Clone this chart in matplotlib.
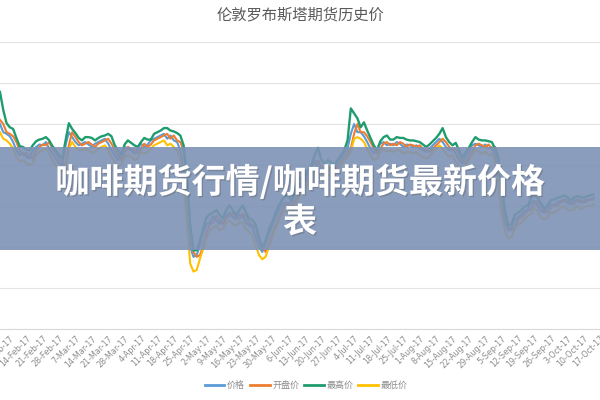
import pandas as pd
import matplotlib.pyplot as plt
from matplotlib.patches import Rectangle
from matplotlib.lines import Line2D
import matplotlib.patheffects as pe

plt.rcParams['font.family'] = ['Noto Sans CJK SC', 'DejaVu Sans']

# =======================
# data
# =======================
high = [2189,2167,2151,2146,2144,2133,2123,2122,2119,2118,
        2124,2129,2131,2132,2134,2130,2123,2118,2112,2108,
        2130,2151,2144,2139,2133,2130,2134,2134,2133,2130,
        2133,2135,2136,2138,2135,2124,2118,2112,2125,2130,
        2127,2124,2122,2128,2133,2131,2131,2138,2140,2142,
        2145,2145,2142,2141,2139,2136,2124,2088,2027,1996,
        1996,2008,2023,2036,2040,2042,2045,2039,2035,2045,
        2051,2045,2039,2045,2051,2042,2035,2033,2027,2011,
        1999,2008,2021,2030,2041,2050,2057,2063,2061,2057,
        2069,2082,2084,2088,2094,2100,2112,2121,2106,2102,
        2106,2103,2100,2106,2112,2118,2130,2169,2163,2157,
        2146,2152,2142,2133,2124,2118,2129,2134,2136,2131,
        2131,2134,2133,2133,2131,2130,2130,2129,2128,2125,
        2122,2125,2129,2133,2138,2145,2134,2128,2124,2127,
        2118,2109,2115,2121,2128,2134,2131,2130,2130,2129,
        2128,2120,2106,2075,2045,2027,2028,2039,2042,2045,
        2049,2051,2060,2063,2060,2053,2047,2051,2057,2058,
        2060,2061,2063,2061,2057,2060,2062,2061,2060,2062,
        2063,2064]

price = [2150,2140,2138,2135,2128,2118,2112,2115,2110,2108,
         2118,2122,2125,2124,2128,2120,2114,2108,2102,2100,
         2124,2140,2134,2128,2124,2126,2128,2125,2122,2126,
         2128,2130,2132,2126,2118,2112,2106,2115,2122,2120,
         2118,2114,2120,2126,2122,2125,2130,2132,2134,2136,
         2138,2132,2136,2130,2128,2118,2095,2040,2000,1988,
         1990,2002,2018,2028,2030,2038,2032,2028,2036,2038,
         2042,2036,2034,2040,2038,2030,2026,2024,2012,2000,
         1994,2004,2016,2026,2036,2044,2052,2054,2050,2056,
         2064,2074,2080,2082,2090,2094,2105,2098,2096,2094,
         2098,2094,2098,2104,2108,2114,2120,2138,2150,2140,
         2140,2135,2128,2120,2114,2120,2126,2128,2124,2126,
         2124,2128,2126,2122,2125,2124,2122,2124,2120,2118,
         2116,2120,2124,2128,2132,2128,2122,2118,2120,2114,
         2106,2102,2110,2116,2124,2126,2124,2122,2125,2120,
         2122,2110,2085,2050,2030,2020,2024,2034,2036,2040,
         2044,2046,2055,2056,2050,2044,2042,2048,2052,2050,
         2055,2056,2058,2054,2052,2056,2058,2054,2056,2058,
         2058,2060]

open_ = [2155,2150,2140,2138,2135,2128,2118,2112,2115,2110,
         2108,2118,2122,2125,2124,2128,2120,2114,2108,2102,
         2100,2124,2140,2134,2128,2124,2126,2128,2125,2122,
         2126,2128,2130,2132,2126,2118,2112,2106,2115,2122,
         2120,2118,2114,2120,2126,2122,2125,2130,2132,2134,
         2136,2138,2132,2136,2130,2128,2118,2085,2025,1994,
         1988,1990,2002,2018,2028,2030,2038,2032,2028,2036,
         2038,2042,2036,2034,2040,2038,2030,2026,2024,2008,
         2000,1994,2004,2016,2026,2036,2044,2052,2054,2050,
         2056,2064,2074,2080,2082,2090,2094,2105,2098,2096,
         2094,2098,2094,2098,2104,2108,2114,2120,2138,2150,
         2140,2140,2135,2128,2120,2114,2120,2126,2128,2124,
         2126,2124,2128,2126,2122,2125,2124,2122,2124,2120,
         2118,2116,2120,2124,2128,2132,2128,2122,2118,2120,
         2114,2106,2102,2110,2116,2124,2126,2124,2122,2125,
         2120,2122,2110,2070,2042,2025,2020,2024,2034,2036,
         2040,2044,2046,2055,2056,2050,2044,2042,2048,2052,
         2050,2055,2056,2058,2054,2052,2056,2058,2054,2056,
         2058,2058]

low = [2140,2132,2130,2126,2120,2110,2104,2106,2102,2100,
       2102,2112,2116,2118,2120,2114,2106,2100,2095,2092,
       2095,2120,2128,2122,2118,2118,2120,2118,2115,2116,
       2120,2122,2124,2118,2110,2104,2098,2100,2110,2112,
       2110,2106,2108,2116,2114,2116,2120,2124,2126,2128,
       2130,2124,2126,2122,2118,2108,2080,2030,1980,1970,
       1972,1986,1998,2012,2020,2024,2026,2020,2022,2030,
       2032,2028,2026,2030,2030,2022,2018,2014,2002,1990,
       1985,1988,2000,2012,2022,2032,2040,2044,2042,2044,
       2050,2058,2068,2074,2078,2084,2090,2090,2088,2086,
       2088,2086,2088,2094,2100,2106,2110,2116,2132,2134,
       2132,2128,2120,2112,2106,2108,2116,2120,2116,2118,
       2116,2118,2118,2114,2116,2116,2114,2116,2112,2110,
       2108,2110,2116,2120,2124,2120,2114,2110,2112,2104,
       2098,2094,2096,2106,2112,2118,2116,2114,2116,2112,
       2114,2104,2078,2040,2020,2010,2012,2022,2028,2030,
       2034,2038,2040,2048,2044,2036,2034,2036,2042,2042,
       2044,2048,2050,2046,2044,2046,2050,2046,2048,2050,
       2050,2052]

# weekly tick labels, first one sits on the 4th trading day
tick_dates = pd.date_range("2017-02-07", periods=37, freq="7D")
tick_labels = [f"{d.day}-{d.strftime('%b-%y')}" for d in tick_dates]

series_names = ["价格", "开盘价", "最高价", "最低价"]
colors = ["#5b9bd5", "#ed7d31", "#1f9c6e", "#ffc000"]

# =======================
# plot
# =======================
fig = plt.figure(figsize=(6, 4), dpi=100)
ax = fig.add_axes([0, 0.1775, 1, 0.7175])

x = list(range(len(high)))
ax.plot(x, price, color=colors[0], lw=1.5)
ax.plot(x, open_, color=colors[1], lw=1.5)
ax.plot(x, low, color=colors[3], lw=1.5)
ax.plot(x, high, color=colors[2], lw=1.7)

ax.set_xlim(0, 180.4)
ax.set_ylim(1900, 2250)
ax.set_yticks(range(1900, 2251, 50))
ax.set_yticklabels([])
ax.grid(axis="y", color="#e3e3e3", lw=0.8)
ax.set_axisbelow(True)
ax.tick_params(length=0)

ax.set_xticks([3 + 5 * k for k in range(len(tick_labels))])
ax.set_xticklabels(tick_labels, rotation=45, ha="right", rotation_mode="anchor",
                   fontsize=5.8, color="#8c8c8c", family="DejaVu Sans")
for s in ["top", "left", "right"]:
    ax.spines[s].set_visible(False)
ax.spines["bottom"].set_color("#d9d9d9")

fig.text(0.5, 0.962, "伦敦罗布斯塔期货历史价", ha="center", va="center",
         fontsize=11, color="#595959")

handles = [Line2D([], [], color=c, lw=2) for c in colors]
fig.legend(handles, series_names, loc="center", bbox_to_anchor=(0.51, 0.037),
           ncol=4, frameon=False, fontsize=6.5, handlelength=2.2,
           columnspacing=0.5, handletextpad=0.3, labelcolor="#8c8c8c")

# overlay banner with headline
fig.add_artist(Rectangle((0, 0.375), 1, 0.2575, transform=fig.transFigure,
                         facecolor=(126/255, 146/255, 181/255), alpha=0.9,
                         edgecolor="none", zorder=5))
fig.text(0.5, 0.545, "咖啡期货行情/咖啡期货最新价格", ha="center", va="center",
         fontsize=24.5, color="white", fontweight="bold", zorder=6,
         path_effects=[pe.withSimplePatchShadow(offset=(1, -1), alpha=0.3)])
fig.text(0.5, 0.445, "表", ha="center", va="center",
         fontsize=24.5, color="white", fontweight="bold", zorder=6,
         path_effects=[pe.withSimplePatchShadow(offset=(1, -1), alpha=0.3)])

fig.savefig("out.png", dpi=100)
